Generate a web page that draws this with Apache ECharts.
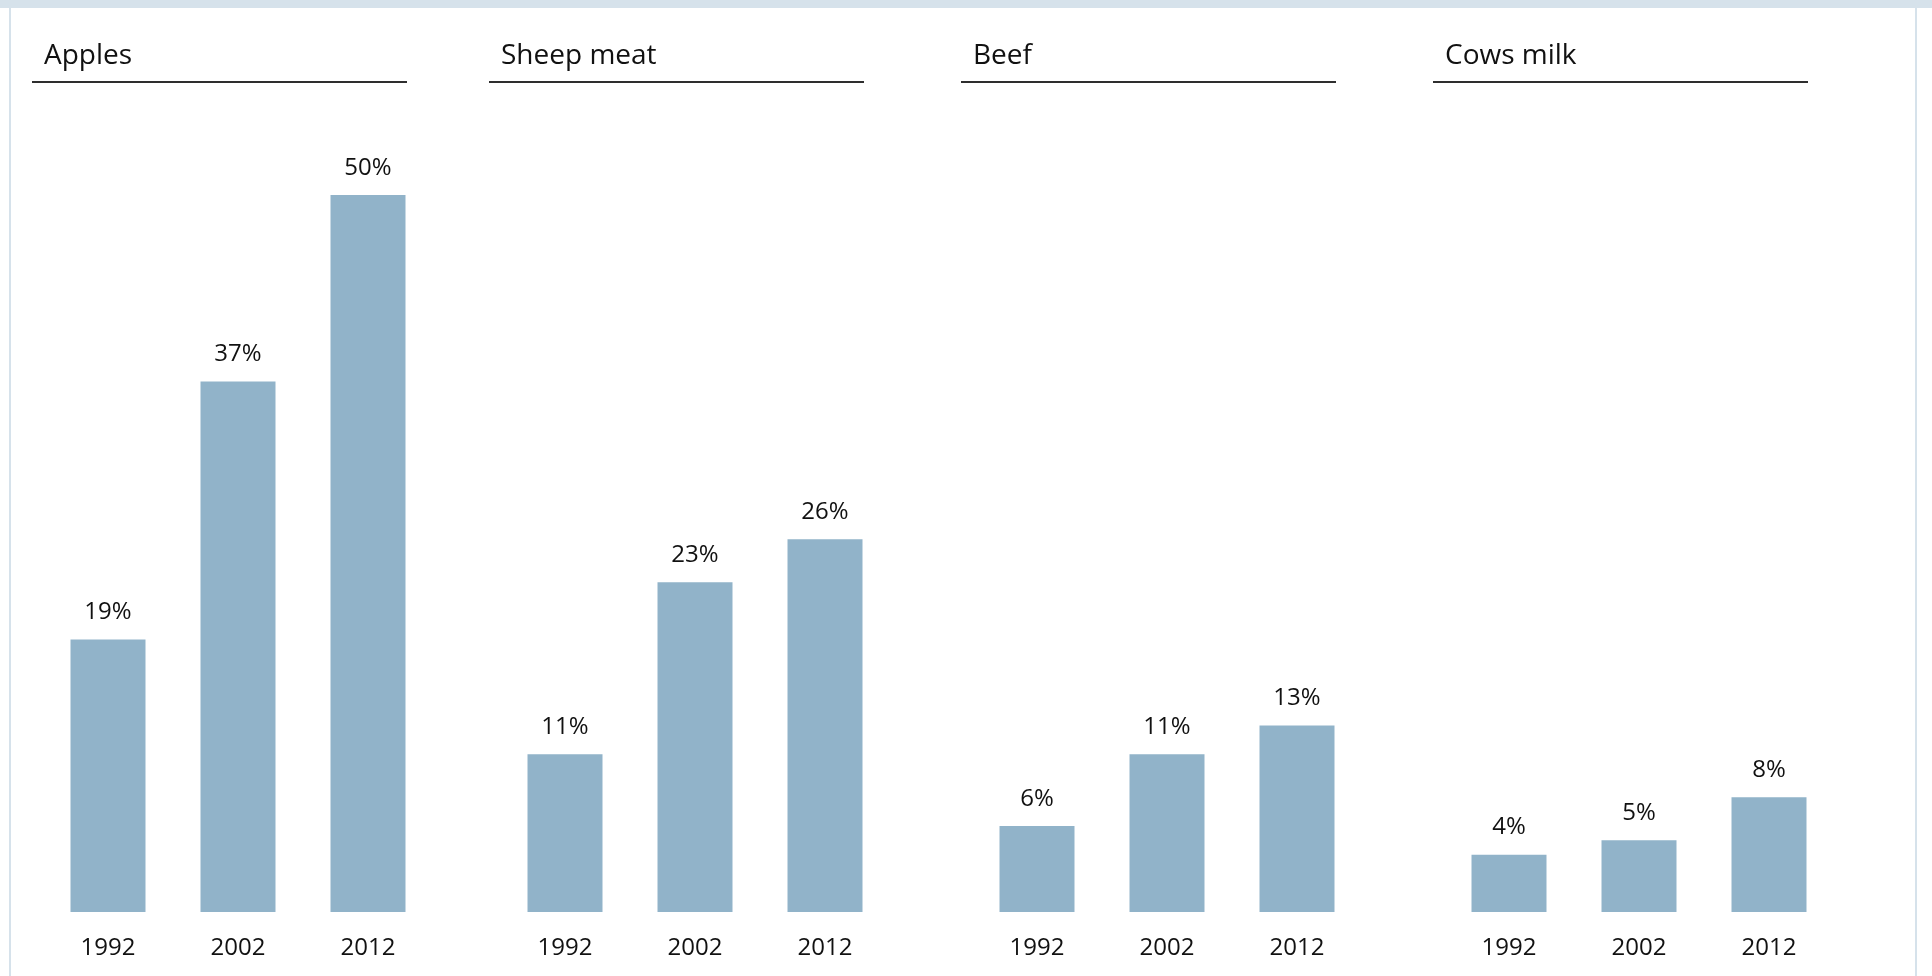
<!DOCTYPE html>
<html>
<head>
<meta charset="utf-8">
<style>
  html, body { margin: 0; padding: 0; background: #ffffff; }
  #chart { width: 1932px; height: 976px; }
</style>
<script src="https://cdn.jsdelivr.net/npm/echarts@6/dist/echarts.min.js"></script>
</head>
<body>
<div id="chart"></div>
<script>
// Share of production, by product and year (%)
const years = ['1992', '2002', '2012'];
const panelTitles = ['Apples', 'Sheep meat', 'Beef', 'Cows milk'];
const apples = [19, 37, 50];
const sheepMeat = [11, 23, 26];
const beef = [6, 11, 13];
const cowsMilk = [4, 5, 8];
const panelValues = [apples, sheepMeat, beef, cowsMilk];

// Layout of the four small multiples
const ruleLeft = [32, 489, 961, 1433];
const ruleWidth = 375;
const FONT = '"Open Sans", "Noto Sans", sans-serif';
const BAR = '#91b3c9';
const FRAME = '#d6e2eb';

const chart = echarts.init(document.getElementById('chart'), null, { renderer: 'canvas' });

const grids = [], xAxes = [], yAxes = [], series = [], titles = [], graphics = [];

// Frame: band along the top and thin side rules
graphics.push({ type: 'rect', shape: { x: 0, y: 0, width: 1932, height: 8 }, style: { fill: FRAME }, silent: true });
graphics.push({ type: 'rect', shape: { x: 9, y: 0, width: 2, height: 976 }, style: { fill: FRAME }, silent: true });
graphics.push({ type: 'rect', shape: { x: 1915, y: 0, width: 2, height: 976 }, style: { fill: FRAME }, silent: true });

panelTitles.forEach((name, i) => {
  const x0 = ruleLeft[i];
  titles.push({
    text: name,
    left: x0 + 12,
    top: 42,
    padding: 0,
    textStyle: { fontFamily: FONT, fontSize: 28, fontWeight: 'normal', color: '#111111' }
  });
  // rule under each panel heading
  graphics.push({
    type: 'rect',
    shape: { x: x0, y: 81, width: ruleWidth, height: 2 },
    style: { fill: '#2e2e2e' },
    silent: true
  });
  grids.push({ left: x0 + 11, width: 390, top: 195, bottom: 64 });
  xAxes.push({
    type: 'category',
    gridIndex: i,
    data: years,
    axisLine: { show: false },
    axisTick: { show: false },
    axisLabel: { margin: 24, fontFamily: FONT, fontSize: 24, color: '#111111' }
  });
  yAxes.push({
    type: 'value',
    gridIndex: i,
    min: 0,
    max: 50,
    show: false,
    splitLine: { show: false }
  });
  series.push({
    type: 'bar',
    name: name,
    xAxisIndex: i,
    yAxisIndex: i,
    data: panelValues[i],
    barWidth: 75,
    itemStyle: { color: BAR },
    label: {
      show: true,
      position: 'top',
      distance: 15,
      formatter: '{c}%',
      fontFamily: FONT,
      fontSize: 24,
      color: '#111111'
    },
    emphasis: { disabled: true }
  });
});

chart.setOption({
  animation: false,
  backgroundColor: '#ffffff',
  title: titles,
  grid: grids,
  xAxis: xAxes,
  yAxis: yAxes,
  series: series,
  graphic: graphics
});
</script>
</body>
</html>
